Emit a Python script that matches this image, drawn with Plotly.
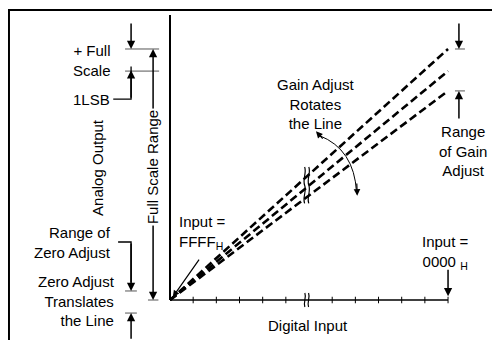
import plotly.graph_objects as go

# x in code steps from the origin, y as a fraction of full scale
tick_codes = [1, 2, 3, 4, 5, 7, 8, 9, 10, 11, 12]
full_code = 12
break_code = 5.9
line_names = ["max gain", "nominal", "min gain"]
line_ends = [1.0, 0.912, 0.833]
zero_adjust = [0.036, -0.052]

FONT = "Liberation Sans, Arial, sans-serif"
INK = "#000000"

fig = go.Figure()

# gain lines
for name, yend in zip(line_names, line_ends):
    fig.add_trace(go.Scatter(
        x=[0, full_code], y=[0, yend], mode="lines", name=name,
        line=dict(color=INK, width=2.6, dash="8px,4px"),
        showlegend=False, hoverinfo="skip"))

# axes
fig.add_trace(go.Scatter(x=[0, full_code], y=[0, 0], mode="lines",
                         line=dict(color=INK, width=1.5), showlegend=False, hoverinfo="skip"))
fig.add_trace(go.Scatter(x=[0, 0], y=[0, 1.135], mode="lines",
                         line=dict(color=INK, width=2), showlegend=False, hoverinfo="skip"))
tx, ty = [], []
for c in tick_codes:
    tx += [c, c, None]
    ty += [-0.013, 0.013, None]
fig.add_trace(go.Scatter(x=tx, y=ty, mode="lines", line=dict(color=INK, width=1),
                         showlegend=False, hoverinfo="skip"))

shapes = []


def hline(x0, x1, y, w=1, color="#555"):
    shapes.append(dict(type="line", x0=x0, x1=x1, y0=y, y1=y, xref="x", yref="y",
                       line=dict(color=color, width=w)))


def squiggle(xc, ytop, ybot, amp=0.09, n=2):
    h = (ytop - ybot) / n
    p = f"M {xc},{ytop}"
    for i in range(n):
        y0 = ytop - i * h
        p += f" C {xc + amp},{y0 - h / 3} {xc - amp},{y0 - 2 * h / 3} {xc},{y0 - h}"
    shapes.append(dict(type="path", path=p, xref="x", yref="y",
                       line=dict(color=INK, width=1.2)))


# frame (open at right and bottom)
shapes.append(dict(type="path", path="M -6.95,-0.3 L -6.95,1.155 L 15,1.155", xref="x", yref="y",
                   line=dict(color=INK, width=2)))

# breaks
for xb in (break_code - 0.09, break_code + 0.09):
    squiggle(xb, 0.53, 0.385, amp=0.1, n=2)
for xb in (break_code - 0.08, break_code + 0.08):
    squiggle(xb, 0.028, -0.028, amp=0.08, n=1)

# reference marks
hline(-1.94, -0.47, 1.0)
hline(-1.94, -0.47, 0.912)
hline(-0.95, -0.5, 0.0)
hline(-1.94, -1.43, zero_adjust[0])
hline(-1.94, -1.43, zero_adjust[1])
hline(12.3, 12.73, line_ends[0])
hline(12.3, 12.73, line_ends[2])

# connectors
shapes.append(dict(type="path", path="M -2.45,0.8 L -1.68,0.8 L -1.68,0.93", xref="x", yref="y",
                   line=dict(color=INK, width=1.3)))
shapes.append(dict(type="path", path="M -2.24,0.231 L -1.68,0.231 L -1.68,0.07", xref="x", yref="y",
                   line=dict(color=INK, width=1.3)))

# rotation arc
shapes.append(dict(type="path", path="M 6.45,0.655 Q 7.95,0.6 8.05,0.43", xref="x", yref="y",
                   line=dict(color=INK, width=1)))

annotations = []


def arrow(x0, y0, x1, y1, w=1.5, side="end"):
    annotations.append(dict(x=x1, y=y1, ax=x0, ay=y0, xref="x", yref="y", axref="x", ayref="y",
                            text="", showarrow=True, arrowhead=2, arrowsize=1.1,
                            arrowwidth=w, arrowcolor=INK, arrowside=side, standoff=0, startstandoff=0))


def label(x, y, text, align="center", xanchor="center", size=15, angle=0, bg=None):
    annotations.append(dict(x=x, y=y, xref="x", yref="y", text=text, showarrow=False,
                            align=align, xanchor=xanchor, yanchor="middle", textangle=angle,
                            font=dict(family=FONT, size=size, color=INK),
                            bgcolor=bg))


# left side arrows
arrow(-1.68, 1.108, -1.68, 1.0)
arrow(-1.68, 0.8, -1.68, 0.915)
arrow(-1.68, 0.231, -1.68, zero_adjust[0])
arrow(-1.68, -0.16, -1.68, zero_adjust[1])
arrow(-0.73, 0.5, -0.73, 1.0)
arrow(-0.73, 0.5, -0.73, 0.0)
# right side arrows
arrow(12.47, 1.108, 12.47, line_ends[0])
arrow(12.47, 0.717, 12.47, line_ends[2])
# input pointers
arrow(1.3, 0.167, 0.12, 0.012, w=1.2)
arrow(full_code, 0.127, full_code, 0.015)
# arc heads
arrow(6.65, 0.637, 6.3, 0.672, w=1.2)
arrow(8.06, 0.47, 8.08, 0.415, w=1.2)

label(-2.45, 0.956, "+ Full<br>Scale", align="right", xanchor="right")
label(-2.52, 0.8, "1LSB", align="right", xanchor="right")
label(-3.11, 0.53, "Analog Output", angle=-90)
label(-0.73, 0.53, "Full Scale Range", angle=-90, bg="white")
label(-2.45, 0.231, "Range of<br>Zero Adjust", align="right", xanchor="right")
label(-2.3, -0.005, "Zero Adjust<br>Translates<br>the Line", align="right", xanchor="right")
label(0.3, 0.27, "Input =<br>FFFF<sub>H</sub>", align="left", xanchor="left")
label(11.9, 0.19, "Input =<br>0000 <sub>H</sub>")
label(5.95, -0.1, "Digital Input")
label(6.3, 0.78, "Gain Adjust<br>Rotates<br>the Line")
label(12.65, 0.595, "Range<br>of Gain<br>Adjust")

# the page body adds an 8px offset, so the ranges are shifted to compensate
fig.update_layout(
    width=500, height=340,
    margin=dict(l=0, r=0, t=0, b=0),
    paper_bgcolor="white", plot_bgcolor="white",
    xaxis=dict(range=[-6.992, 14.588], visible=False, fixedrange=True),
    yaxis=dict(range=[-0.1912, 1.1633], visible=False, fixedrange=True),
    shapes=shapes, annotations=annotations,
    showlegend=False,
)

fig.write_html("out.html")
